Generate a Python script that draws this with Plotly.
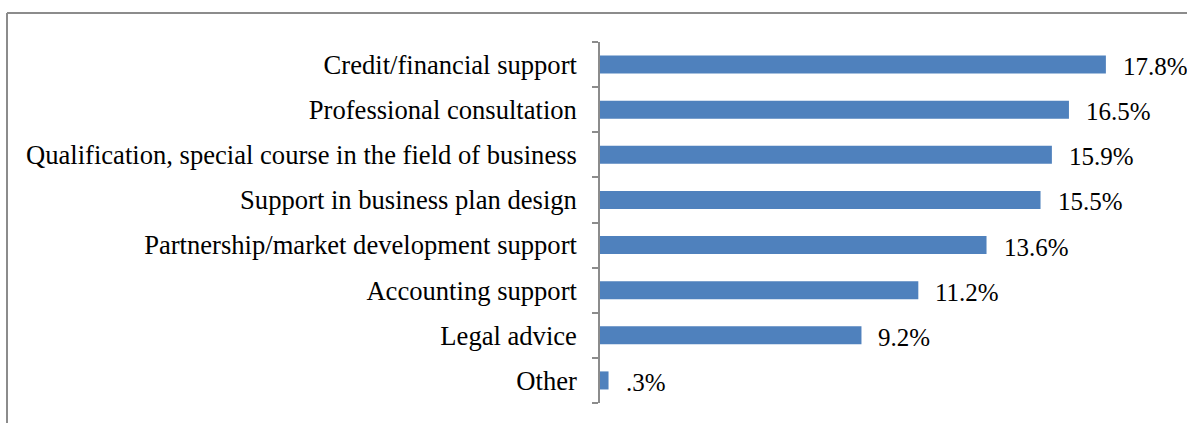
import plotly.graph_objects as go

categories = [
    "Credit/financial support",
    "Professional consultation",
    "Qualification, special course in the field of business",
    "Support in business plan design",
    "Partnership/market development support",
    "Accounting support",
    "Legal advice",
    "Other",
]
values = [17.8, 16.5, 15.9, 15.5, 13.6, 11.2, 9.2, 0.3]
value_labels = ["17.8%", "16.5%", "15.9%", "15.5%", "13.6%", "11.2%", "9.2%", ".3%"]

W, H = 1187, 423
ML, MR, MT, MB = 600, 20, 42, 20
plot_w = W - ML - MR
plot_h = H - MT - MB

FONT = "Liberation Serif"
CAT_SIZE = 26.6
VAL_SIZE = 25
BAR = "#4F81BD"
FRAME = "#8C8C8C"

fig = go.Figure()
fig.add_trace(go.Bar(
    x=values,
    y=categories,
    orientation="h",
    marker=dict(color=BAR, line=dict(width=0)),
    width=0.4,
    hoverinfo="skip",
))

for v, lab, cat in zip(values, value_labels, categories):
    fig.add_annotation(
        x=v, y=cat, text=lab, showarrow=False,
        xanchor="left", yanchor="middle", xshift=15, yshift=-2,
        font=dict(family=FONT, size=VAL_SIZE, color="#000000"),
    )

# outer chart-area frame (top and left edges)
def px_x(px):
    return (px - ML) / plot_w

def px_y(py):
    return 1 + (MT - py) / plot_h

fig.add_shape(type="line", xref="paper", yref="paper",
              x0=px_x(7), x1=px_x(1195), y0=px_y(13), y1=px_y(13),
              line=dict(color=FRAME, width=2))
fig.add_shape(type="line", xref="paper", yref="paper",
              x0=px_x(7), x1=px_x(7), y0=px_y(13), y1=px_y(430),
              line=dict(color=FRAME, width=2))

fig.update_layout(
    width=W, height=H,
    margin=dict(l=ML, r=MR, t=MT, b=MB),
    paper_bgcolor="white", plot_bgcolor="white",
    showlegend=False,
    bargap=0.6,
    font=dict(family=FONT, size=VAL_SIZE, color="#000000"),
    xaxis=dict(range=[0, 19.95], visible=False, fixedrange=True),
    yaxis=dict(
        categoryorder="array",
        categoryarray=categories[::-1],
        autorange=False,
        range=[-0.5, len(categories) - 0.5],
        showline=True, linecolor=FRAME, linewidth=1.5,
        ticks="outside", ticklen=6, tickcolor=FRAME, tickwidth=1.5,
        tickson="boundaries",
        ticklabelstandoff=16,
        showgrid=False,
        tickfont=dict(family=FONT, size=CAT_SIZE, color="#000000"),
    ),
)

fig.write_html("out.html")
